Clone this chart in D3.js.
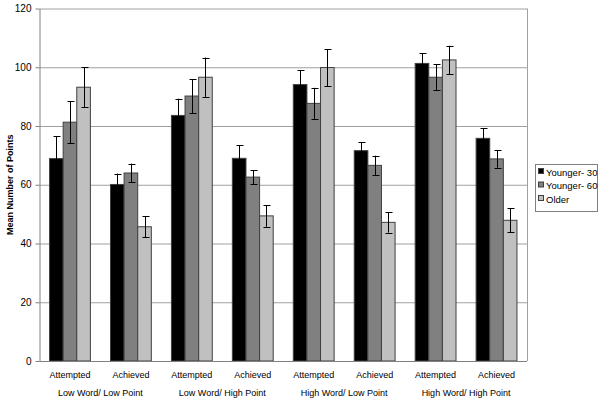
<!DOCTYPE html>
<html><head><meta charset="utf-8">
<script src="https://cdn.jsdelivr.net/npm/d3@7"></script>
<style>body{margin:0;background:#fff}svg{display:block}text{font-family:"Liberation Sans",Arial,sans-serif}</style>
</head><body><svg id="c" width="603" height="403"></svg>
<script>
const conditions = ["Low Word/ Low Point","Low Word/ High Point","High Word/ Low Point","High Word/ High Point"];
const measures = ["Attempted","Achieved"];
const seriesNames = ["Younger- 30","Younger- 60","Older"];
const seriesColors = ["#000000","#808080","#c0c0c0"];
// order: LWLP-Att, LWLP-Ach, LWHP-Att, LWHP-Ach, HWLP-Att, HWLP-Ach, HWHP-Att, HWHP-Ach
const younger30 = [68.9, 60.1, 83.6, 69.0, 94.1, 71.6, 101.3, 75.8];
const younger30Err = [7.6, 3.7, 5.7, 4.4, 4.9, 2.9, 3.4, 3.5];
const younger60 = [81.3, 64.0, 90.2, 62.6, 87.7, 66.6, 96.6, 68.8];
const younger60Err = [7.1, 3.2, 5.8, 2.4, 5.3, 3.3, 4.4, 3.0];
const older = [93.2, 45.7, 96.6, 49.4, 99.9, 47.2, 102.5, 47.9];
const olderErr = [6.9, 3.6, 6.7, 3.7, 6.3, 3.5, 4.8, 4.1];
const yTicks = [0,20,40,60,80,100,120];

const values = [younger30, younger60, older];
const errs = [younger30Err, younger60Err, olderErr];
const groups = [];
conditions.forEach(c => measures.forEach(m => groups.push(c + "|" + m)));

const svg = d3.select("#c");
const L = 39.5, R = 527, T = 8.5, B = 361;
const x = d3.scaleBand().domain(groups).range([L, R]).paddingInner(0.33).paddingOuter(0.165);
const xs = d3.scaleBand().domain(d3.range(3)).range([0, x.bandwidth()]);
const y = d3.scaleLinear().domain([0,120]).range([B, T]);

// gridlines
svg.append("g").selectAll("line").data(yTicks.filter(d=>d>0)).join("line")
  .attr("x1", L).attr("x2", R).attr("y1", d=>y(d)+0.5).attr("y2", d=>y(d)+0.5)
  .attr("stroke", "#a0a0a0").attr("stroke-width", 1);
// right border
svg.append("line").attr("x1", R+0.5).attr("x2", R+0.5).attr("y1", T).attr("y2", B)
  .attr("stroke", "#a0a0a0");

// bars
const bars = svg.append("g");
groups.forEach((g, gi) => {
  values.forEach((vals, si) => {
    const bx = x(g) + xs(si);
    bars.append("rect")
      .attr("x", bx).attr("y", y(vals[gi]))
      .attr("width", xs.bandwidth()).attr("height", B - y(vals[gi]))
      .attr("fill", seriesColors[si]).attr("stroke", "#404040").attr("stroke-width", 1);
  });
});
// error bars
groups.forEach((g, gi) => {
  values.forEach((vals, si) => {
    const cx = Math.round(x(g) + xs(si) + xs.bandwidth()/2) + 0.5;
    const top = y(vals[gi] + errs[si][gi]);
    const bot = y(vals[gi] - errs[si][gi]);
    bars.append("line").attr("x1", cx).attr("x2", cx).attr("y1", top).attr("y2", bot)
      .attr("stroke", "#000").attr("stroke-width", 1);
    [top, bot].forEach(yy => bars.append("line").attr("x1", cx-3).attr("x2", cx+4)
      .attr("y1", Math.round(yy)+0.5).attr("y2", Math.round(yy)+0.5).attr("stroke", "#000"));
  });
});

// y axis
const yAxis = d3.axisLeft(y).tickValues(yTicks).tickSize(4).tickSizeOuter(0).tickPadding(4);
const ga = svg.append("g").attr("transform", `translate(${L},0)`).call(yAxis);
ga.selectAll("text").attr("font-size", 10).attr("fill", "#000").style("font-family", '"Liberation Sans",Arial,sans-serif');
ga.selectAll("line").attr("stroke", "#808080");
ga.select(".domain").attr("stroke", "#808080");
// x axis baseline
svg.append("line").attr("x1", L).attr("x2", R).attr("y1", B+0.5).attr("y2", B+0.5).attr("stroke", "#808080");

// x labels
const xAxis = d3.axisBottom(x).tickSize(0).tickPadding(0).tickFormat(d => d.split("|")[1]);
const gx = svg.append("g").attr("transform", `translate(0,${B})`).call(xAxis);
gx.select(".domain").remove();
gx.selectAll("text").attr("font-size", 9).attr("fill", "#000").attr("dy", null).attr("y", 17)
  .style("font-family", '"Liberation Sans",Arial,sans-serif');

svg.append("g").selectAll("text").data(conditions).join("text")
  .attr("x", (d,i) => (x(d+"|Attempted") + x(d+"|Achieved") + x.bandwidth())/2)
  .attr("y", 396).attr("text-anchor", "middle").attr("font-size", 9).text(d => d);

// y title
svg.append("text").attr("transform", `translate(13,${(T+B)/2}) rotate(-90)`)
  .attr("text-anchor", "middle").attr("font-size", 9).attr("font-weight", "bold").text("Mean Number of Points");

// legend
const lg = svg.append("g");
lg.append("rect").attr("x", 535.5).attr("y", 164.5).attr("width", 62).attr("height", 47)
  .attr("fill", "#fff").attr("stroke", "#808080");
seriesNames.forEach((n, i) => {
  const yy = 172 + i * 13.5;
  lg.append("rect").attr("x", 538.5).attr("y", yy - 3.5).attr("width", 5).attr("height", 5)
    .attr("fill", seriesColors[i]).attr("stroke", "#404040");
  lg.append("text").attr("x", 546).attr("y", yy + 3.5).attr("font-size", 9.5).text(n);
});
</script></body></html>
